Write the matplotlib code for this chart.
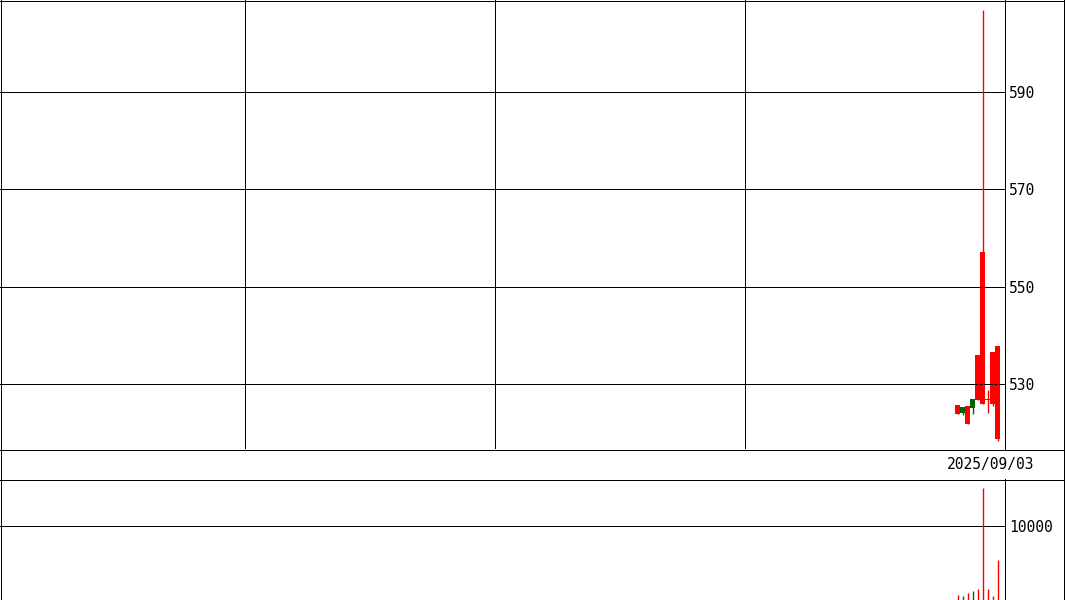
import matplotlib
matplotlib.use('Agg')
import matplotlib.pyplot as plt
from matplotlib.lines import Line2D
import numpy as np

# daily candles (last 9 sessions of a 201-slot window)
idx = [191, 192, 193, 194, 195, 196, 197, 198, 199]
opens = [523.8, 525.4, 521.8, 526.9, 526.7, 525.9, 526.8, 525.9, 518.7]
closes = [525.7, 524.0, 525.5, 525.1, 536.0, 557.1, 526.8, 536.6, 537.8]
highs = [525.7, 525.4, 525.5, 526.9, 536.0, 606.7, 528.8, 536.6, 537.8]
lows = [523.8, 523.6, 521.8, 523.8, 526.7, 525.9, 524.0, 525.5, 518.3]
volumes = [700, 550, 960, 1230, 1500, 15070, 1500, 550, 5340]
up_flags = [True, False, True, False, True, True, True, True, True]

price_ticks = [530, 550, 570, 590]
vol_ticks = [10000]
date_label = '2025/09/03'

W, H = 1065, 600
fig = plt.figure(figsize=(W / 100, H / 100), dpi=100)
font = dict(family='DejaVu Sans Mono', fontsize=10.5)
LW = 0.72

red = '#ff0000'
green = '#006400'
colors = [red if u else green for u in up_flags]

# price panel
ax = fig.add_axes([0, (H - 449) / H, 1005 / W, 449 / H])
ax.set_xlim(-0.5, 200.5)
ax.set_ylim(516.7, 608.8)
for p in price_ticks:
    ax.axhline(p, color='black', lw=LW)
for gx in [48.5, 98.5, 148.5]:
    ax.axvline(gx, color='black', lw=LW)
for i, o, c, h, l, col in zip(idx, opens, closes, highs, lows, colors):
    ax.vlines(i, l, h, color=col, lw=1)
    bottom = min(o, c)
    height = max(abs(c - o), 0.2)
    ax.bar(i, height, bottom=bottom, width=1.0, color=col, edgecolor='none')
ax.set_xticks([])
ax.yaxis.tick_right()
ax.set_yticks(price_ticks)
ax.set_yticklabels([str(p) for p in price_ticks], **font)
ax.tick_params(axis='y', length=0, pad=3)
for k in ['top', 'left', 'bottom']:
    ax.spines[k].set_visible(False)
ax.spines['right'].set_linewidth(LW)

# volume panel
axv = fig.add_axes([0, 0, 1005 / W, 121 / H])
axv.set_xlim(-0.5, 200.5)
axv.set_ylim(0, 16350)
axv.axhline(10000, color='black', lw=LW)
axv.vlines(idx, 0, volumes, colors=colors, lw=1)
axv.set_xticks([])
axv.yaxis.tick_right()
axv.set_yticks(vol_ticks)
axv.set_yticklabels([str(v) for v in vol_ticks], **font)
axv.tick_params(axis='y', length=0, pad=3)
for k in ['top', 'left', 'bottom']:
    axv.spines[k].set_visible(False)
axv.spines['right'].set_linewidth(LW)

# outer frame and date strip
def fline(xs, ys):
    fig.add_artist(Line2D(xs, ys, color='black', lw=LW))

fline([0, 1], [1 - 449.5 / H] * 2)
fline([0, 1], [1 - 479.5 / H] * 2)
fline([1 - 1.2 / W] * 2, [0, 1])
fline([0, 1], [1 - 0.5 / H] * 2)
fline([0.5 / W] * 2, [0, 1])
fig.text(1034 / W, 1 - 465 / H, date_label, ha='right', va='center', **font)

fig.savefig('out.png', dpi=100)
